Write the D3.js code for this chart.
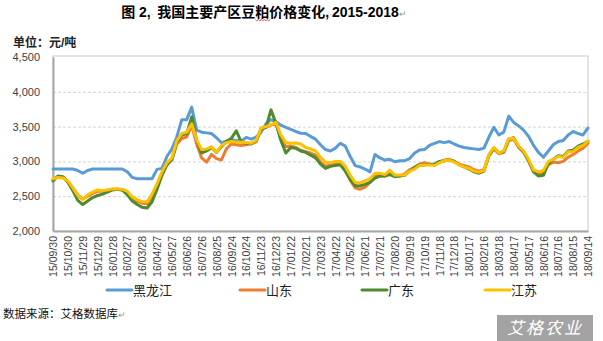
<!DOCTYPE html>
<html><head><meta charset="utf-8">
<script src="https://cdn.jsdelivr.net/npm/d3@7"></script>
<style>
html,body{margin:0;padding:0;background:#fff;}
svg{display:block;font-family:Arial,"Liberation Sans","Noto Sans CJK SC",sans-serif;}
</style></head><body>
<svg id="chart" width="603" height="341"></svg>
<script>
// ---- data (sampled every 10 days from 2015-09-30) ----
const startDate = "2015-09-30";
const stepDays = 10;
const tickLabels = ["15/09/30","15/10/30","15/11/29","15/12/29","16/01/28","16/02/27","16/03/28","16/04/27","16/05/27","16/06/26","16/07/26","16/08/25","16/09/24","16/10/24","16/11/23","16/12/23","17/01/22","17/02/21","17/03/23","17/04/22","17/05/22","17/06/21","17/07/21","17/08/20","17/09/19","17/10/19","17/11/18","17/12/18","18/01/17","18/02/16","18/03/18","18/04/17","18/05/17","18/06/16","18/07/16","18/08/15","18/09/14"];
const yTicks = [2000,2500,3000,3500,4000,4500];
const seriesNames = ["黑龙江","山东","广东","江苏"];
const heilongjiang = [2890,2890,2890,2890,2890,2870,2830,2870,2890,2890,2890,2890,2890,2890,2890,2850,2770,2750,2750,2750,2750,2885,2900,3070,3180,3355,3600,3600,3780,3450,3420,3410,3400,3340,3270,3290,3310,3300,3290,3345,3320,3350,3420,3540,3600,3570,3520,3490,3460,3430,3405,3400,3360,3320,3240,3170,3150,3190,3260,3220,3070,2940,2920,2890,2850,3100,3050,3020,3030,2995,3010,3010,3040,3120,3165,3170,3230,3260,3285,3270,3285,3250,3220,3200,3190,3180,3170,3190,3350,3490,3380,3420,3650,3560,3510,3450,3360,3230,3130,3060,3150,3240,3285,3300,3380,3430,3400,3380,3480];
const shandong = [2740,2780,2770,2710,2620,2520,2460,2500,2540,2570,2570,2585,2600,2600,2590,2540,2470,2430,2400,2390,2500,2660,2830,2960,3020,3250,3330,3350,3520,3250,3050,2990,3100,3040,3020,3180,3250,3240,3230,3240,3260,3280,3460,3490,3520,3550,3330,3210,3220,3200,3160,3140,3120,3090,2990,2930,2950,2960,2960,2880,2730,2620,2600,2630,2700,2800,2790,2790,2850,2800,2790,2820,2880,2920,2960,2980,2960,2950,2990,3020,3030,3000,2960,2940,2920,2880,2860,2880,3080,3180,3110,3130,3300,3320,3200,3130,3000,2860,2820,2850,2950,2990,2980,3000,3060,3100,3150,3190,3260];
const guangdong = [2720,2790,2780,2700,2580,2440,2380,2430,2480,2510,2530,2560,2590,2600,2590,2520,2430,2380,2340,2330,2420,2600,2800,2950,3030,3280,3380,3400,3640,3300,3120,3150,3200,3130,3210,3290,3330,3440,3280,3260,3250,3290,3470,3490,3740,3550,3300,3120,3200,3190,3150,3130,3090,3050,2960,2900,2930,2940,2950,2860,2740,2650,2650,2670,2700,2760,2790,2790,2810,2780,2790,2800,2860,2910,2950,2950,2960,2960,3000,3010,3020,3000,2950,2920,2890,2850,2830,2860,3090,3190,3120,3140,3320,3340,3210,3140,3010,2850,2790,2800,2970,3030,3080,3070,3150,3160,3220,3250,3290];
const jiangsu = [2750,2770,2760,2720,2620,2510,2450,2520,2560,2590,2580,2590,2605,2605,2600,2570,2490,2450,2420,2420,2530,2680,2850,2980,3050,3300,3400,3420,3540,3310,3170,3180,3210,3130,3230,3270,3285,3280,3275,3270,3260,3300,3480,3500,3530,3560,3380,3270,3260,3265,3250,3200,3180,3150,3060,2990,2980,3000,3000,2930,2800,2700,2690,2720,2750,2830,2830,2810,2875,2800,2805,2805,2860,2890,2940,2950,2950,2940,2980,3010,3020,2990,2950,2920,2900,2860,2845,2870,3100,3200,3120,3150,3330,3330,3220,3150,3030,2880,2850,2870,3000,3030,3070,3060,3140,3140,3200,3230,3290];
const colors = ["#5B9BD5","#ED7D31","#4E8A2E","#FFC000"];

// ---- build ----
const parse = d3.timeParse("%Y-%m-%d");
const t0 = parse(startDate);
const allSeries = [heilongjiang, shandong, guangdong, jiangsu];
const dates = heilongjiang.map((_, i) => d3.timeDay.offset(t0, i * stepDays));
const tickDates = tickLabels.map(s => d3.timeParse("%y/%m/%d")(s));

const svg = d3.select("#chart");
const L = 53, R = 588, T = 57, B = 231;
const x = d3.scaleTime().domain([t0, dates[dates.length - 1]]).range([L, R]);
const y = d3.scaleLinear().domain([2000, 4500]).range([B, T]);

// title
const title = svg.append("text").attr("x", 264).attr("y", 17).attr("text-anchor", "middle")
  .attr("font-size", 14).attr("font-weight", "bold").attr("fill", "#000");
title.append("tspan").text("图 2,");
title.append("tspan").attr("fill", "#888").attr("font-weight", "normal").attr("font-size", 8).text("·");
title.append("tspan").text(" 我国主要产区豆");
const pu = title.append("tspan").text("粕");
title.append("tspan").text("价格变化,");
title.append("tspan").attr("fill", "#888").attr("font-weight", "normal").attr("font-size", 8).text("·");
title.append("tspan").text("2015-2018");
title.append("tspan").attr("fill", "#999").attr("font-weight", "normal").attr("font-size", 9).text("↵");
// spell-check squiggle under 粕
try {
  const ti = Array.from(title.node().textContent).indexOf("粕");
  const ext = title.node().getExtentOfChar(ti);
  const sx = ext.x, ex = ext.x + ext.width, sy = 19.5;
  let dstr = `M${sx},${sy}`;
  for (let px = sx, k = 0; px < ex; px += 1.5, k++) dstr += `L${px + 1.5},${sy + (k % 2 ? 0 : 1.2)}`;
  svg.append("path").attr("d", dstr).attr("fill", "none").attr("stroke", "#e02020").attr("stroke-width", 0.8);
} catch (e) {}

svg.append("text").attr("x", 13).attr("y", 47).attr("font-size", 12).attr("font-weight", "bold")
  .attr("fill", "#222").text("单位：元/吨");

// plot frame
svg.append("rect").attr("x", L).attr("y", T - 1).attr("width", R - L).attr("height", B - T + 1)
  .attr("fill", "none").attr("stroke", "#c8c8c8").attr("stroke-width", 1);

// grid
svg.append("g").selectAll("line").data(yTicks.filter(v => v > 2000 && v < 4500)).join("line")
  .attr("x1", L).attr("x2", R).attr("y1", d => y(d) + 0.5).attr("y2", d => y(d) + 0.5)
  .attr("stroke", "#d4d4d4").attr("stroke-dasharray", "3,2");

// y axis
const yAxis = d3.axisLeft(y).tickValues(yTicks).tickFormat(d3.format(",")).tickSize(0).tickPadding(13);
const gy = svg.append("g").attr("transform", `translate(${L},0)`).call(yAxis);
gy.select(".domain").attr("stroke", "#a6a6a6").attr("stroke-width", 2);
gy.selectAll("text").attr("font-size", 11).attr("fill", "#404040")
  .attr("font-family", "Arial,'Liberation Sans',sans-serif");

// x axis
const xAxis = d3.axisBottom(x).tickValues(tickDates).tickFormat(d3.timeFormat("%y/%m/%d")).tickSize(0);
const gx = svg.append("g").attr("transform", `translate(0,${B})`).call(xAxis);
gx.select(".domain").attr("stroke", "#a6a6a6").attr("stroke-width", 2);
gx.selectAll("text").attr("font-size", 10.5).attr("fill", "#404040")
  .attr("font-family", "Arial,'Liberation Sans',sans-serif")
  .attr("text-anchor", "end").attr("dy", "0.35em")
  .attr("transform", "translate(0,5) rotate(-90)").attr("x", 0).attr("y", 0);

// lines
const line = d3.line().x((d, i) => x(dates[i])).y(d => y(d)).curve(d3.curveLinear);
svg.append("g").selectAll("path").data(allSeries).join("path")
  .attr("d", d => line(d)).attr("fill", "none")
  .attr("stroke", (d, i) => colors[i]).attr("stroke-width", 3)
  .attr("stroke-linejoin", "round").attr("stroke-linecap", "round");

// legend
const legendX = [107, 240, 362, 485];
const lg = svg.append("g").selectAll("g").data(seriesNames).join("g")
  .attr("transform", (d, i) => `translate(${legendX[i]},290)`);
lg.append("line").attr("x1", 0).attr("x2", 25).attr("y1", 0).attr("y2", 0)
  .attr("stroke", (d, i) => colors[i]).attr("stroke-width", 3).attr("stroke-linecap", "round");
lg.append("text").attr("x", 26).attr("y", 4.5).attr("font-size", 13).attr("fill", "#222").text(d => d);

// source
const src = svg.append("text").attr("x", 3).attr("y", 318).attr("font-size", 11.5).attr("fill", "#111");
src.append("tspan").text("数据来源：艾格数据库");
src.append("tspan").attr("fill", "#999").attr("font-size", 9).text("↵");

// watermark box
svg.append("rect").attr("x", 497).attr("y", 315).attr("width", 96).attr("height", 26).attr("fill", "#a3a3a3");
svg.append("text").attr("x", 545).attr("y", 334).attr("text-anchor", "middle").attr("font-size", 17)
  .attr("fill", "#fff").attr("font-style", "italic").attr("letter-spacing", 2).text("艾格农业");
</script></body></html>
